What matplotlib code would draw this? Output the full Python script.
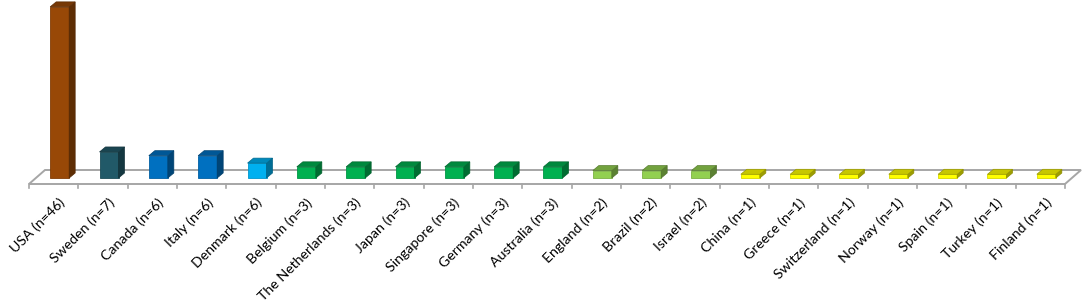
import matplotlib
matplotlib.use('Agg')
import matplotlib.pyplot as plt
from matplotlib.patches import Polygon
from matplotlib.colors import to_rgb

countries = ['USA', 'Sweden', 'Canada', 'Italy', 'Denmark', 'Belgium', 'The Netherlands',
             'Japan', 'Singapore', 'Germany', 'Australia', 'England', 'Brazil', 'Israel',
             'China', 'Greece', 'Switzerland', 'Norway', 'Spain', 'Turkey', 'Finland']
counts = [46, 7, 6, 6, 6, 3, 3, 3, 3, 3, 3, 2, 2, 2, 1, 1, 1, 1, 1, 1, 1]
# bar heights as drawn in the picture (Denmark's bar is drawn lower than its label)
heights = [46, 7, 6, 6, 4, 3, 3, 3, 3, 3, 3, 2, 2, 2, 1, 1, 1, 1, 1, 1, 1]
colors = ['#984807', '#215968', '#0070C0', '#0070C0', '#00B0F0',
          '#00B050', '#00B050', '#00B050', '#00B050', '#00B050', '#00B050',
          '#92D050', '#92D050', '#92D050',
          '#FFFF00', '#FFFF00', '#FFFF00', '#FFFF00', '#FFFF00', '#FFFF00', '#FFFF00']

plt.rcParams['font.family'] = ['Lato', 'DejaVu Sans']

W, H = 1084, 302
fig = plt.figure(figsize=(W / 100, H / 100), dpi=100)

# pixel geometry of the pseudo-3D plot
n = len(countries)
x_left, x_right = 29, 1065
px_x = (x_right - x_left) / n      # pixels per category
px_y = 3.72                        # pixels per count
front_y, base_y, back_y = 184, 178, 170

ax = fig.add_axes([x_left / W, (H - front_y) / H, (x_right - x_left) / W, front_y / H])
ax.set_xlim(0, n)
ax.set_ylim(-(front_y - base_y) / px_y, base_y / px_y)
ax.axis('off')

def dx(p):
    return p / px_x

def dy(p):
    return p / px_y

# floor
yf = -(front_y - base_y) / px_y
yb = (base_y - back_y) / px_y
fd = dx(16)
floor = Polygon([(0, yf), (fd, yb), (n + fd, yb), (n, yf)], closed=True,
                facecolor='white', edgecolor='#a6a6a6', lw=1.4, clip_on=False, zorder=1)
ax.add_patch(floor)
for i in range(n + 1):
    ax.plot([i, i], [yf, yf - dy(4)], color='#a6a6a6', lw=1.2, clip_on=False, zorder=1)

def shade(c, f):
    r, g, b = to_rgb(c)
    return (r * f, g * f, b * f)

bw = dx(19)
bdx, bdy = dx(6), dy(5)
for i, (v, c) in enumerate(zip(heights, colors)):
    x0 = i + 0.5 + dx(6) - bw / 2
    x1 = x0 + bw
    front = Polygon([(x0, 0), (x1, 0), (x1, v), (x0, v)], facecolor=c,
                    edgecolor=shade(c, 0.85), lw=0.6, zorder=3, clip_on=False)
    side = Polygon([(x1, 0), (x1 + bdx, bdy), (x1 + bdx, v + bdy), (x1, v)],
                   facecolor=shade(c, 0.62), edgecolor=shade(c, 0.55), lw=0.5, zorder=3, clip_on=False)
    top = Polygon([(x0, v), (x1, v), (x1 + bdx, v + bdy), (x0 + bdx, v + bdy)],
                  facecolor=shade(c, 0.78), edgecolor=shade(c, 0.6), lw=0.5, zorder=3, clip_on=False)
    for p in (front, side, top):
        ax.add_patch(p)

    ax.text(i + 0.5 + dx(5), -(196 - base_y) / px_y, f'{countries[i]} (n={counts[i]})',
            rotation=45, ha='right', va='top', rotation_mode='anchor',
            fontsize=10.2, color='#000000', clip_on=False)

fig.savefig('out.png', dpi=100)
